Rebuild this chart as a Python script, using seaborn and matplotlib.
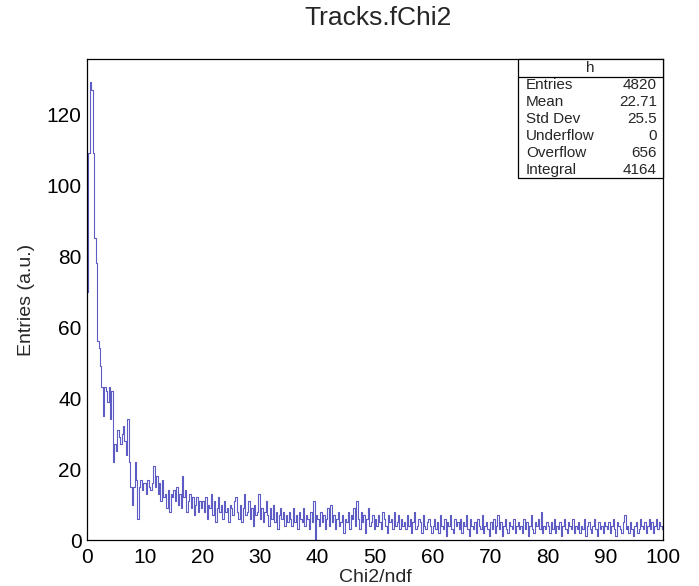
import numpy as np
import pandas as pd
import matplotlib
matplotlib.use("Agg")
import matplotlib.pyplot as plt
import seaborn as sns
from matplotlib.ticker import MultipleLocator

title = "Tracks.fChi2"
x_label = "Chi2/ndf"
y_label = "Entries (a.u.)"
x_min, x_max, bin_width = 0.0, 100.0, 0.25

counts = [
    70, 109, 129, 127, 109, 85, 78, 56, 54, 49, 43, 35, 43, 42, 39, 43, 34, 42, 22, 27,
    25, 31, 29, 27, 30, 32, 28, 24, 34, 22, 15, 10, 15, 22, 17, 6, 15, 17, 14, 16,
    16, 13, 17, 15, 14, 16, 21, 15, 18, 13, 16, 11, 17, 12, 13, 9, 14, 8, 13, 12,
    14, 11, 15, 10, 13, 9, 18, 12, 14, 8, 11, 13, 9, 12, 7, 10, 12, 8, 11, 9,
    11, 8, 12, 6, 10, 9, 13, 7, 11, 5, 9, 12, 8, 10, 6, 11, 8, 9, 5, 10,
    9, 7, 11, 12, 8, 6, 10, 5, 9, 13, 7, 8, 11, 6, 9, 4, 10, 7, 8, 13,
    6, 9, 5, 8, 11, 7, 4, 9, 6, 10, 5, 8, 3, 7, 9, 6, 8, 4, 7, 5,
    8, 6, 4, 9, 5, 7, 3, 8, 6, 5, 9, 4, 7, 6, 3, 8, 5, 11, 0, 7,
    6, 4, 8, 5, 7, 3, 6, 9, 4, 10, 5, 7, 3, 6, 8, 4, 5, 7, 2, 6,
    5, 8, 3, 7, 6, 9, 4, 11, 6, 3, 8, 5, 7, 2, 6, 9, 4, 5, 7, 3,
    6, 4, 7, 5, 3, 8, 6, 4, 2, 7, 5, 6, 3, 8, 4, 5, 7, 3, 6, 4,
    5, 3, 7, 4, 6, 2, 5, 8, 3, 4, 6, 5, 2, 7, 4, 3, 5, 6, 4, 2,
    4, 6, 3, 5, 2, 7, 4, 3, 6, 1, 5, 4, 7, 3, 2, 6, 4, 5, 3, 6,
    2, 5, 4, 7, 3, 1, 6, 4, 3, 5, 2, 6, 4, 3, 7, 2, 4, 5, 3, 1,
    5, 3, 6, 2, 4, 7, 3, 5, 1, 4, 6, 3, 2, 5, 4, 3, 6, 2, 4, 5,
    3, 4, 2, 6, 3, 5, 1, 4, 7, 3, 2, 5, 4, 6, 3, 8, 2, 4, 3, 5,
    4, 2, 5, 3, 6, 2, 4, 3, 5, 1, 4, 6, 3, 2, 5, 4, 3, 6, 2, 4,
    3, 5, 2, 4, 3, 6, 1, 4, 5, 3, 2, 4, 6, 3, 1, 5, 3, 4, 2, 5,
    4, 3, 5, 2, 4, 6, 3, 1, 5, 4, 3, 2, 5, 7, 3, 4, 2, 5, 3, 1,
    4, 5, 2, 3, 6, 4, 3, 5, 2, 4, 6, 3, 5, 2, 4, 6, 3, 5, 4, 3,
]

stats_name = "h"
stats_labels = ["Entries", "Mean", "Std Dev", "Underflow", "Overflow", "Integral"]
stats_values = ["4820", "22.71", "25.5", "0", "656", "4164"]

sns.set_style("white")
plt.rcParams["font.family"] = ["Liberation Sans", "DejaVu Sans"]

n_bins = len(counts)
centers = x_min + (np.arange(n_bins) + 0.5) * bin_width
df = pd.DataFrame({"x": centers, "w": np.asarray(counts, dtype=float)})

fig = plt.figure(figsize=(6.99, 5.86), dpi=100)
ax_l, ax_r, ax_t, ax_b = 87, 663, 59, 540
ax = fig.add_axes([ax_l / 699, 1 - ax_b / 586, (ax_r - ax_l) / 699, (ax_b - ax_t) / 586])

sns.histplot(data=df, x="x", weights="w", bins=n_bins, binrange=(x_min, x_max),
             element="step", fill=False, color="#5c5cc4", linewidth=0.8, ax=ax)

ax.set_xlim(x_min, x_max)
ax.set_ylim(0, 135.6)
ax.xaxis.set_major_locator(MultipleLocator(10))
ax.xaxis.set_minor_locator(MultipleLocator(2))
ax.yaxis.set_major_locator(MultipleLocator(20))
ax.yaxis.set_minor_locator(MultipleLocator(5))
ax.tick_params(axis="both", which="both", direction="in", top=False, right=False,
               colors="black", labelsize=15)
ax.tick_params(axis="y", which="major", length=13, width=0.9, pad=4)
ax.tick_params(axis="y", which="minor", length=7, width=0.9)
ax.tick_params(axis="x", which="major", length=12, width=0.9, pad=6)
ax.tick_params(axis="x", which="minor", length=6, width=0.9)
for s in ax.spines.values():
    s.set_color("black")
    s.set_linewidth(0.9)

ax.set_xlabel(x_label, fontsize=14, labelpad=1)
ax.set_ylabel(y_label, fontsize=14, labelpad=8)
fig.text(378 / 699, 1 - 18 / 586, title, ha="center", va="center", fontsize=19)

# statistics box
bx0, bx1 = 518 / 699, ax_r / 699
by_top, by_bot = 1 - ax_t / 586, 1 - 178 / 586
box = plt.Rectangle((bx0, by_bot), bx1 - bx0, by_top - by_bot, transform=fig.transFigure,
                    facecolor="white", edgecolor="black", linewidth=0.9, zorder=5)
fig.add_artist(box)
hdr_h = 18 / 586
fig.add_artist(plt.Line2D([bx0, bx1], [by_top - hdr_h, by_top - hdr_h],
                          transform=fig.transFigure, color="black", linewidth=0.9, zorder=6))
fig.text((bx0 + bx1) / 2, by_top - hdr_h / 2, stats_name, ha="center", va="center",
         fontsize=11, zorder=7)
row_h = (by_top - hdr_h - by_bot) / len(stats_labels)
for i, (lab, val) in enumerate(zip(stats_labels, stats_values)):
    yy = by_top - hdr_h - row_h * (i + 0.5)
    fig.text(bx0 + 8 / 699, yy, lab, ha="left", va="center", fontsize=11, zorder=7)
    fig.text(bx1 - 6 / 699, yy, val, ha="right", va="center", fontsize=11, zorder=7)

fig.savefig("out.png", dpi=100)
